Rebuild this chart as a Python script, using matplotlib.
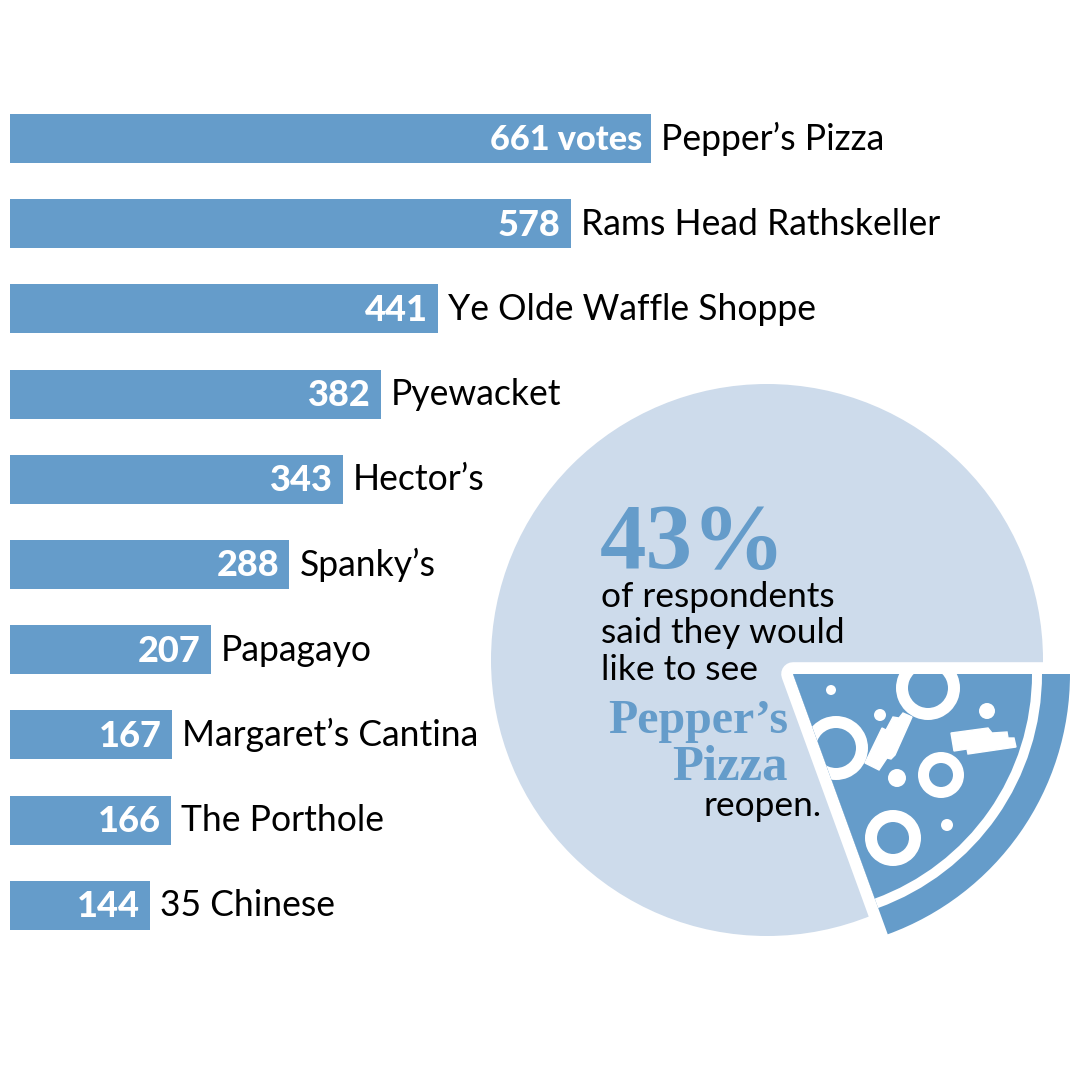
import matplotlib
matplotlib.use('Agg')
import matplotlib.pyplot as plt
from matplotlib.patches import Wedge, Circle, Polygon

places = ["Pepper’s Pizza", "Rams Head Rathskeller", "Ye Olde Waffle Shoppe", "Pyewacket",
          "Hector’s", "Spanky’s", "Papagayo", "Margaret’s Cantina", "The Porthole", "35 Chinese"]
votes = [661, 578, 441, 382, 343, 288, 207, 167, 166, 144]
value_labels = ["661 votes"] + [str(v) for v in votes[1:]]

BLUE = '#659CCA'
LIGHT = '#CDDBEB'

fig = plt.figure(figsize=(10.8, 10.8), dpi=100)

# overlay in pixel coordinates for the pizza graphic
art = fig.add_axes([0, 0, 1, 1], zorder=1)
art.set_xlim(0, 1080)
art.set_ylim(1080, 0)
art.axis('off')

art.add_patch(Circle((767, 660), 276, fc=LIGHT, ec='none'))

apex = (793, 674)
art.add_patch(Wedge(apex, 277, 0, 70, fc='white', ec='white', lw=17, joinstyle='round'))
art.add_patch(Wedge(apex, 277, 0, 70, fc=BLUE, ec='none'))
art.add_patch(Wedge(apex, 249, 0, 70, fc='white', ec='none'))
inner = Wedge(apex, 239, 0, 70, fc=BLUE, ec='none')
art.add_patch(inner)

toppings = []
for c, r_out, r_in in [((928, 688), 32, 20), ((836, 748), 32, 20), ((893, 838), 28, 16), ((941, 775), 23, 12)]:
    toppings.append(Wedge(c, r_out, 0, 360, width=r_out - r_in, fc='white', ec='none'))
for c, r in [((831, 690), 5), ((880, 715), 6), ((987, 711), 8), ((897, 778), 9), ((947, 825), 6)]:
    toppings.append(Circle(c, r, fc='white', ec='none'))
toppings.append(Polygon([(893, 717), (899, 718), (903, 713), (912, 717), (895, 755), (891, 759), (887, 758),
                         (879, 770), (865, 763), (882, 728), (886, 730)], fc='white', ec='white', lw=1))
toppings.append(Polygon([(951, 733), (988, 728), (992, 733), (1007, 732), (1008, 738), (1014, 738), (1016, 747),
                         (968, 754), (967, 749), (954, 751)], fc='white', ec='white', lw=1))
for p in toppings:
    art.add_patch(p)
    p.set_clip_path(inner)

sans = 'Lato'
serif = 'Liberation Serif'
art.text(600, 568, '43%', family=serif, weight='bold', size=67, color=BLUE, ha='left', va='baseline')
for y, line in [(607, 'of respondents'), (643, 'said they would'), (680, 'like to see')]:
    art.text(601, y, line, family=sans, size=25.4, color='black', ha='left', va='baseline')
art.text(788, 733, 'Pepper’s', family=serif, weight='bold', size=34.5, color=BLUE, ha='right', va='baseline')
art.text(788, 779, 'Pizza', family=serif, weight='bold', size=36.5, color=BLUE, ha='right', va='baseline')
art.text(822, 816, 'reopen.', family=sans, size=25.4, color='black', ha='right', va='baseline')

# bars, 0.97 px per vote starting at x=10, 85.2 px between rows
ax = fig.add_axes([10 / 1080, 0, 1070 / 1080, 1], zorder=2)
ax.patch.set_alpha(0)
ax.set_xlim(0, 1070 / 0.97)
ax.set_ylim((1080 - 138.5) / 85.2, -138.5 / 85.2)
ax.axis('off')

rows = list(range(len(votes)))
ax.barh(rows, votes, height=49 / 85.2, color=BLUE)
for i, v in enumerate(votes):
    ax.annotate(value_labels[i], (v, i), xytext=(-9 if i == 0 else -10, -12), textcoords='offset pixels',
                family=sans, weight='black', size=24.7 if i == 0 else 26, color='white', ha='right', va='baseline')
    ax.annotate(places[i], (v, i), xytext=(10, -11), textcoords='offset pixels',
                family=sans, size=25.6, color='black', ha='left', va='baseline')

fig.savefig('out.png', dpi=100)
